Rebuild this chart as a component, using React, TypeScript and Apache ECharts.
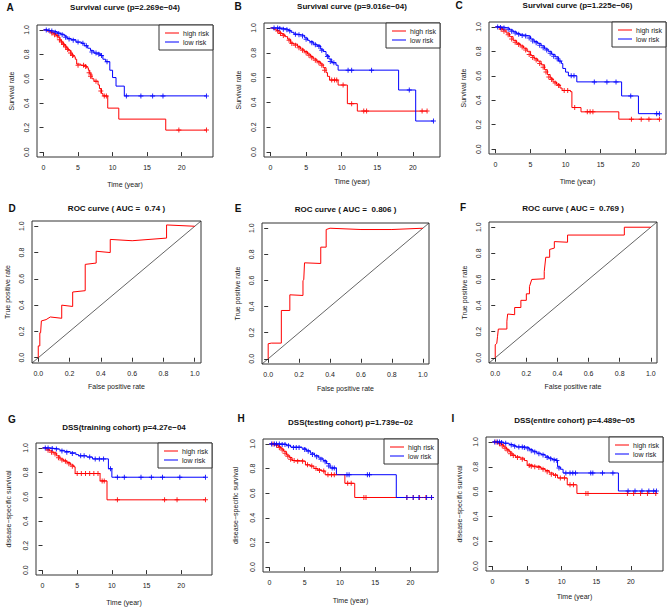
import React, { useEffect, useRef } from "react";
import * as echarts from "echarts";

const FONT = '"Liberation Sans", Arial, Helvetica, sans-serif';
const RED = "#FF0000";
const BLUE = "#0000FF";
const INK = "#333333";

// ---- tick values ----
const kmXTicks = [0, 5, 10, 15, 20];
const unitTicks = [0, 0.2, 0.4, 0.6, 0.8, 1.0];

// ---- panel texts ----
const letters = ["A", "B", "C", "D", "E", "F", "G", "H", "I"];
const titles = [
  "Survival curve (p=2.269e\u221204)",
  "Survival curve (p=9.016e\u221204)",
  "Survival curve (p=1.225e\u221206)",
  "ROC curve ( AUC =  0.74 )",
  "ROC curve ( AUC =  0.806 )",
  "ROC curve ( AUC =  0.769 )",
  "DSS(training cohort) p=4.27e\u221204",
  "DSS(testing cohort) p=1.739e\u221202",
  "DSS(entire cohort) p=4.489e\u221205",
];
const yNames = [
  "Survival rate", "Survival rate", "Survival rate",
  "True positive rate", "True positive rate", "True positive rate",
  "disease\u2212specific survival", "disease\u2212specific survival", "disease\u2212specific survival",
];
const xNames = [
  "Time (year)", "Time (year)", "Time (year)",
  "False positive rate", "False positive rate", "False positive rate",
  "Time (year)", "Time (year)", "Time (year)",
];
const legendNames = ["high risk", "low risk"];

// ---- follow-up maximum (years) for KM panels ----
const kmMaxA = 23.6, kmMaxB = 22.9, kmMaxC = 23.4, kmMaxG = 23.5, kmMaxH = 23.0, kmMaxI = 23.7;

// ---- Kaplan-Meier step points [time, survival] ----
const aHigh = [[0,1],[0.5,0.99],[1.0,0.98],[1.4,0.97],[1.8,0.955],[2.1,0.94],[2.4,0.91],[2.7,0.89],[3.0,0.87],[3.3,0.85],[3.6,0.83],[4.0,0.80],[4.3,0.78],[4.6,0.76],[4.8,0.72],[5.4,0.71],[6.2,0.69],[6.5,0.67],[6.7,0.64],[7.0,0.60],[7.3,0.58],[7.9,0.55],[8.1,0.52],[8.4,0.48],[8.6,0.46],[9.3,0.36],[10.9,0.27],[17.7,0.18],[23.6,0.18]];
const aHighCens = [[1.2,0.975],[1.6,0.96],[2.0,0.95],[2.3,0.92],[2.6,0.90],[2.9,0.88],[3.2,0.86],[3.5,0.84],[3.9,0.81],[4.2,0.79],[5.0,0.71],[5.8,0.71],[6.1,0.70],[6.6,0.65],[6.8,0.62],[7.6,0.58],[8.3,0.50],[8.8,0.46],[9.1,0.46],[19.6,0.18],[23.6,0.18]];
const aLow = [[0,1],[0.6,0.995],[1.0,0.99],[1.5,0.985],[2.0,0.975],[2.5,0.965],[3.0,0.95],[3.4,0.93],[4.0,0.92],[4.7,0.90],[5.5,0.89],[5.9,0.87],[6.4,0.85],[6.8,0.83],[7.3,0.81],[8.2,0.79],[8.6,0.76],[9.0,0.74],[9.6,0.67],[10.0,0.61],[10.5,0.54],[11.7,0.46],[23.6,0.46]];
const aLowCens = [[0.4,1],[0.8,0.995],[1.2,0.99],[1.7,0.98],[2.2,0.97],[2.7,0.96],[3.2,0.94],[3.7,0.925],[4.3,0.915],[5.0,0.90],[5.7,0.89],[6.2,0.87],[7.0,0.82],[7.6,0.81],[8.0,0.80],[8.4,0.79],[9.2,0.74],[12.0,0.46],[14.1,0.46],[15.8,0.46],[17.3,0.46],[23.6,0.46]];

const bHigh = [[0,1],[0.4,0.99],[0.8,0.98],[1.2,0.96],[1.6,0.95],[2.0,0.93],[2.4,0.91],[2.8,0.88],[3.2,0.87],[3.8,0.85],[4.2,0.83],[4.7,0.81],[5.2,0.79],[5.6,0.77],[6.0,0.75],[6.5,0.73],[7.0,0.71],[7.4,0.68],[7.8,0.64],[8.0,0.61],[8.3,0.58],[9.5,0.54],[10.8,0.39],[12.2,0.33],[22.0,0.33]];
const bHighCens = [[1.0,0.975],[1.4,0.955],[1.8,0.94],[2.6,0.90],[3.0,0.875],[3.5,0.86],[4.0,0.84],[4.5,0.82],[5.0,0.80],[5.4,0.78],[5.8,0.76],[6.3,0.74],[6.8,0.72],[7.2,0.70],[7.6,0.66],[8.6,0.58],[9.0,0.58],[9.3,0.58],[10.2,0.54],[11.4,0.39],[13.1,0.33],[13.5,0.33],[21.3,0.33],[22.0,0.33]];
const bLow = [[0,1],[1.5,0.995],[2.0,0.99],[2.5,0.98],[2.9,0.965],[3.3,0.95],[3.8,0.945],[4.3,0.94],[4.8,0.92],[5.2,0.90],[5.5,0.89],[6.0,0.87],[6.5,0.86],[7.0,0.83],[7.4,0.81],[7.8,0.78],[8.2,0.75],[8.6,0.72],[9.2,0.70],[9.5,0.66],[18.0,0.50],[20.4,0.25],[22.9,0.25]];
const bLowCens = [[0.5,1],[1.0,1],[1.3,0.995],[1.8,0.99],[2.3,0.985],[2.7,0.975],[3.5,0.95],[4.0,0.945],[4.5,0.935],[5.0,0.91],[5.8,0.88],[6.3,0.865],[6.8,0.85],[7.2,0.82],[8.0,0.77],[8.4,0.73],[8.9,0.72],[10.9,0.66],[11.4,0.66],[14.2,0.66],[19.5,0.50],[22.9,0.25]];

const cHigh = [[0,1],[0.5,0.99],[1.0,0.975],[1.5,0.95],[2.0,0.92],[2.5,0.89],[3.0,0.865],[3.5,0.845],[4.0,0.825],[4.5,0.80],[5.0,0.765],[5.5,0.74],[6.0,0.72],[6.5,0.69],[7.0,0.65],[7.4,0.61],[7.8,0.58],[8.2,0.55],[8.7,0.53],[9.2,0.50],[9.5,0.48],[10.7,0.47],[10.9,0.34],[12.2,0.305],[17.6,0.245],[23.4,0.245]];
const cHighCens = [[0.8,0.98],[1.2,0.965],[1.8,0.935],[2.3,0.90],[2.8,0.875],[3.3,0.855],[3.8,0.835],[4.3,0.81],[4.8,0.775],[5.3,0.75],[5.8,0.73],[6.3,0.70],[6.8,0.67],[7.2,0.63],[7.6,0.59],[8.0,0.57],[8.5,0.54],[9.0,0.52],[9.8,0.48],[10.3,0.48],[11.3,0.34],[13.1,0.305],[13.5,0.305],[13.9,0.305],[19.4,0.245],[20.8,0.245],[21.9,0.245],[23.4,0.245]];
const cLow = [[0,1],[1.0,0.995],[1.5,0.99],[2.0,0.975],[2.5,0.96],[3.0,0.945],[3.5,0.935],[4.0,0.93],[4.5,0.925],[5.0,0.90],[5.5,0.88],[6.0,0.865],[6.5,0.845],[7.0,0.82],[7.5,0.80],[8.0,0.775],[8.5,0.755],[9.0,0.72],[9.4,0.70],[9.6,0.66],[10.0,0.63],[10.4,0.60],[11.6,0.55],[18.0,0.435],[20.4,0.29],[23.4,0.29]];
const cLowCens = [[0.3,1],[0.7,0.995],[1.2,0.99],[1.8,0.98],[2.3,0.965],[2.8,0.95],[3.3,0.94],[3.8,0.93],[4.3,0.925],[4.8,0.91],[5.3,0.885],[5.8,0.87],[6.3,0.85],[6.8,0.83],[7.3,0.81],[7.8,0.785],[8.3,0.76],[8.8,0.74],[9.2,0.72],[10.8,0.60],[11.2,0.60],[14.1,0.55],[15.9,0.55],[17.2,0.55],[19.3,0.435],[23.0,0.29],[23.4,0.29]];

const gHigh = [[0,1],[0.5,0.99],[1.0,0.975],[1.5,0.96],[2.0,0.935],[2.5,0.91],[3.0,0.895],[3.5,0.88],[4.0,0.86],[4.5,0.845],[4.7,0.79],[8.3,0.73],[9.3,0.575],[23.5,0.575]];
const gHighCens = [[0.8,0.98],[1.3,0.965],[1.8,0.95],[2.3,0.92],[2.8,0.90],[3.3,0.89],[3.8,0.87],[4.3,0.85],[5.0,0.79],[5.6,0.79],[6.2,0.79],[6.8,0.79],[7.4,0.79],[8.0,0.79],[8.6,0.73],[8.9,0.73],[10.8,0.575],[17.6,0.575],[19.4,0.575],[23.5,0.575]];
const gLow = [[0,1],[1.2,0.995],[1.8,0.99],[2.5,0.98],[3.2,0.97],[4.0,0.96],[4.8,0.945],[5.2,0.935],[6.4,0.925],[7.2,0.91],[9.5,0.83],[10.0,0.76],[23.5,0.76]];
const gLowCens = [[0.4,1],[0.8,1],[1.4,0.995],[2.0,0.99],[2.8,0.975],[3.5,0.965],[4.3,0.955],[5.5,0.935],[6.0,0.935],[6.8,0.925],[7.6,0.91],[8.2,0.91],[8.8,0.91],[9.8,0.83],[10.8,0.76],[11.8,0.76],[14.2,0.76],[15.7,0.76],[17.3,0.76],[19.8,0.76],[23.5,0.76]];

const hHigh = [[0,1],[0.8,0.995],[1.2,0.98],[1.6,0.96],[2.0,0.94],[2.4,0.91],[2.8,0.89],[3.2,0.865],[4.4,0.86],[5.1,0.83],[5.8,0.82],[6.3,0.80],[6.8,0.79],[7.4,0.78],[7.9,0.75],[10.7,0.68],[12.1,0.565],[23.0,0.565]];
const hHighCens = [[0.5,1],[1.0,0.99],[1.4,0.97],[1.8,0.95],[2.2,0.925],[2.6,0.90],[3.0,0.875],[3.5,0.865],[4.0,0.86],[4.7,0.86],[5.4,0.83],[6.0,0.82],[6.6,0.80],[7.1,0.785],[7.7,0.78],[8.3,0.75],[8.8,0.75],[9.2,0.75],[11.1,0.68],[11.6,0.68],[13.4,0.565],[13.7,0.565],[19.5,0.565],[20.4,0.565],[21.3,0.565],[22.2,0.565],[23.0,0.565]];
const hLow = [[0,1],[2.4,0.99],[3.0,0.975],[4.6,0.965],[5.2,0.945],[5.8,0.925],[6.4,0.905],[7.0,0.885],[7.6,0.865],[8.1,0.84],[8.6,0.805],[9.5,0.75],[18.0,0.565],[23.0,0.565]];
const hLowCens = [[0.3,1],[0.7,1],[1.0,1],[1.4,1],[1.8,0.995],[2.2,0.995],[2.7,0.985],[3.4,0.97],[3.8,0.97],[4.2,0.97],[5.0,0.955],[5.5,0.94],[6.1,0.915],[6.7,0.895],[7.3,0.875],[7.9,0.855],[8.4,0.82],[8.9,0.805],[9.2,0.805],[11.0,0.75],[11.3,0.75],[13.9,0.75],[14.2,0.75],[19.5,0.565],[20.4,0.565],[21.2,0.565],[22.3,0.565],[23.0,0.565]];

const iHigh = [[0,1],[0.8,0.99],[1.2,0.98],[1.6,0.96],[2.0,0.94],[2.4,0.92],[2.8,0.895],[3.3,0.88],[4.0,0.87],[4.6,0.85],[5.0,0.815],[5.8,0.805],[6.4,0.80],[7.0,0.785],[7.6,0.77],[8.2,0.75],[8.8,0.735],[9.4,0.71],[10.8,0.655],[12.2,0.585],[23.7,0.585]];
const iHighCens = [[0.5,1],[1.0,0.985],[1.4,0.97],[1.8,0.95],[2.2,0.93],[2.6,0.905],[3.0,0.89],[3.6,0.875],[4.3,0.86],[5.3,0.81],[5.6,0.805],[6.1,0.80],[6.7,0.795],[7.3,0.78],[7.9,0.76],[8.5,0.74],[9.1,0.73],[9.8,0.71],[10.4,0.71],[11.2,0.655],[11.7,0.655],[13.5,0.585],[13.8,0.585],[19.5,0.585],[20.4,0.585],[21.4,0.585],[22.4,0.585],[23.6,0.585]];
const iLow = [[0,1],[1.6,0.99],[2.4,0.98],[3.0,0.97],[3.4,0.96],[4.8,0.955],[5.3,0.94],[5.8,0.925],[6.4,0.91],[7.0,0.90],[7.6,0.885],[8.1,0.87],[8.6,0.86],[9.2,0.85],[9.4,0.80],[9.8,0.78],[10.2,0.75],[18.2,0.605],[23.7,0.605]];
const iLowCens = [[0.3,1],[0.7,1],[1.0,1],[1.3,0.995],[1.9,0.99],[2.7,0.975],[3.2,0.965],[3.8,0.96],[4.3,0.96],[4.6,0.955],[5.1,0.945],[5.6,0.93],[6.1,0.92],[6.7,0.905],[7.3,0.895],[7.9,0.875],[8.4,0.865],[8.9,0.855],[9.3,0.85],[9.6,0.79],[10.6,0.75],[11.2,0.75],[11.6,0.75],[12.0,0.75],[14.2,0.75],[14.5,0.75],[15.9,0.75],[17.4,0.75],[19.6,0.605],[20.6,0.605],[21.6,0.605],[22.6,0.605],[23.3,0.605],[23.7,0.605]];

// ---- ROC curves [FPR, TPR] ----
const rocD = [[0,0],[0,0.09],[0.01,0.09],[0.01,0.19],[0.015,0.19],[0.02,0.28],[0.05,0.29],[0.077,0.31],[0.15,0.30],[0.15,0.40],[0.22,0.39],[0.22,0.50],[0.30,0.51],[0.30,0.71],[0.37,0.72],[0.37,0.81],[0.46,0.80],[0.46,0.90],[0.6,0.89],[0.82,0.91],[0.82,1.01],[1.0,1.0]];
const rocE = [[0,0],[0,0.115],[0.02,0.12],[0.085,0.12],[0.085,0.37],[0.14,0.37],[0.14,0.49],[0.225,0.485],[0.225,0.60],[0.23,0.605],[0.235,0.735],[0.34,0.73],[0.34,0.855],[0.375,0.855],[0.375,0.99],[0.4,1.0],[0.6,0.99],[0.8,0.99],[1.0,1.0]];
const rocF = [[0,0],[0,0.10],[0.01,0.11],[0.015,0.165],[0.02,0.22],[0.075,0.22],[0.075,0.28],[0.08,0.335],[0.125,0.33],[0.125,0.385],[0.165,0.385],[0.165,0.44],[0.2,0.44],[0.2,0.49],[0.22,0.49],[0.22,0.545],[0.235,0.60],[0.315,0.605],[0.315,0.66],[0.325,0.77],[0.35,0.77],[0.35,0.83],[0.38,0.84],[0.38,0.89],[0.465,0.885],[0.465,0.94],[0.83,0.94],[0.83,1.0],[1.0,1.0]];

const rocLo = -0.04;
const rocHi = 1.04;

// ---- layout (plot box pixel positions) ----
const layout = [
  { l: 37, t: 25, w: 176, h: 132, yg: 22, xg: 24, lx: 10, ly: 7, ty: 7 },
  { l: 264, t: 23, w: 176, h: 134, yg: 22, xg: 21, lx: 238, ly: 6, ty: 6 },
  { l: 489, t: 22, w: 177, h: 132, yg: 22, xg: 24, lx: 459, ly: 5, ty: 5 },
  { l: 32, t: 221, w: 169, h: 142, yg: 21, xg: 20, lx: 12, ly: 208, ty: 208 },
  { l: 262, t: 223, w: 167, h: 141, yg: 21, xg: 21, lx: 238, ly: 208, ty: 209 },
  { l: 489, t: 222, w: 168, h: 141, yg: 21, xg: 20, lx: 463, ly: 207, ty: 208 },
  { l: 36, t: 443, w: 176, h: 132, yg: 24, xg: 24, lx: 12, ly: 419, ty: 427 },
  { l: 263, t: 439, w: 175, h: 133, yg: 24, xg: 25, lx: 241, ly: 418, ty: 422 },
  { l: 486, t: 437, w: 177, h: 134, yg: 23, xg: 22, lx: 453, ly: 418, ty: 420 },
];

const kmPanels: Record<number, any> = {
  0: { high: aHigh, highC: aHighCens, low: aLow, lowC: aLowCens, max: kmMaxA },
  1: { high: bHigh, highC: bHighCens, low: bLow, lowC: bLowCens, max: kmMaxB },
  2: { high: cHigh, highC: cHighCens, low: cLow, lowC: cLowCens, max: kmMaxC },
  6: { high: gHigh, highC: gHighCens, low: gLow, lowC: gLowCens, max: kmMaxG },
  7: { high: hHigh, highC: hHighCens, low: hLow, lowC: hLowCens, max: kmMaxH },
  8: { high: iHigh, highC: iHighCens, low: iLow, lowC: iLowCens, max: kmMaxI },
};
const rocPanels: Record<number, number[][]> = { 3: rocD, 4: rocE, 5: rocF };

const PLUS = "path://M4,0 H6 V4 H10 V6 H6 V10 H4 V6 H0 V4 H4 Z";

function buildOption() {
  const grid: any[] = [];
  const xAxis: any[] = [];
  const yAxis: any[] = [];
  const series: any[] = [];
  const graphic: any[] = [];
  const labelStyle = { fontSize: 7, color: "#222", fontFamily: FONT };

  layout.forEach((p, i) => {
    grid.push({ left: p.l, top: p.t, width: p.w, height: p.h, show: true, borderColor: INK, borderWidth: 1, backgroundColor: "transparent" });
    const km = kmPanels[i];
    const xMin = km ? -0.04 * km.max : rocLo;
    const xMax = km ? 1.04 * km.max : rocHi;
    const xTicks = km ? kmXTicks : unitTicks;
    xAxis.push({
      type: "value", gridIndex: i, min: xMin, max: xMax,
      axisLine: { show: false }, splitLine: { show: false },
      axisTick: { show: true, length: 4, customValues: xTicks, lineStyle: { color: INK, width: 1 } },
      axisLabel: { customValues: xTicks, margin: 7, ...labelStyle, formatter: (v: number) => (km ? String(v) : v.toFixed(1)) },
      name: xNames[i], nameLocation: "middle", nameGap: p.xg,
      nameTextStyle: { fontSize: 7, color: "#222", fontFamily: FONT },
    });
    yAxis.push({
      type: "value", gridIndex: i, min: rocLo, max: rocHi,
      axisLine: { show: false }, splitLine: { show: false },
      axisTick: { show: true, length: 4, customValues: unitTicks, lineStyle: { color: INK, width: 1 } },
      axisLabel: { customValues: unitTicks, margin: 7, rotate: 90, ...labelStyle, formatter: (v: number) => v.toFixed(1) },
      name: yNames[i], nameLocation: "middle", nameGap: p.yg,
      nameTextStyle: { fontSize: 7, color: "#222", fontFamily: FONT },
    });

    if (km) {
      const groups = [
        { d: km.high, c: km.highC, col: RED, name: legendNames[0] },
        { d: km.low, c: km.lowC, col: BLUE, name: legendNames[1] },
      ];
      groups.forEach((g) => {
        series.push({
          type: "line", name: g.name, xAxisIndex: i, yAxisIndex: i, data: g.d, step: "end",
          symbol: "none", silent: true, lineStyle: { color: g.col, width: 1 }, z: 3,
        });
        series.push({
          type: "scatter", name: g.name, xAxisIndex: i, yAxisIndex: i, data: g.c,
          symbol: PLUS, symbolSize: 5, silent: true, itemStyle: { color: g.col, opacity: 0.85 }, z: 4,
        });
      });
      // legend box
      const lw = 54, lh = 25;
      graphic.push({
        type: "group", x: p.l + p.w - lw, y: p.t, z: 100,
        children: [
          { type: "rect", shape: { x: 0, y: 0, width: lw, height: lh }, style: { fill: "#fff", stroke: INK, lineWidth: 1 } },
          { type: "line", shape: { x1: 6, y1: 8, x2: 20, y2: 8 }, style: { stroke: RED, lineWidth: 1 } },
          { type: "text", x: 24, y: 8, style: { text: legendNames[0], fill: "#222", font: `7px ${FONT}`, verticalAlign: "middle", align: "left" } },
          { type: "line", shape: { x1: 6, y1: 17, x2: 20, y2: 17 }, style: { stroke: BLUE, lineWidth: 1 } },
          { type: "text", x: 24, y: 17, style: { text: legendNames[1], fill: "#222", font: `7px ${FONT}`, verticalAlign: "middle", align: "left" } },
        ],
      });
    } else {
      series.push({
        type: "line", xAxisIndex: i, yAxisIndex: i, data: [[rocLo, rocLo], [rocHi, rocHi]],
        symbol: "none", silent: true, lineStyle: { color: "#222", width: 0.7 }, z: 2,
      });
      series.push({
        type: "line", xAxisIndex: i, yAxisIndex: i, data: rocPanels[i],
        symbol: "none", silent: true, lineStyle: { color: RED, width: 1 }, z: 3,
      });
    }

    graphic.push({
      type: "text", x: p.lx, y: p.ly, z: 100,
      style: { text: letters[i], fill: "#111", font: `bold 10px ${FONT}`, align: "center", verticalAlign: "middle" },
    });
    graphic.push({
      type: "text", x: p.l + p.w / 2, y: p.ty, z: 100,
      style: { text: titles[i], fill: "#111", font: `bold 8px ${FONT}`, align: "center", verticalAlign: "middle" },
    });
  });

  return { animation: false, backgroundColor: "#ffffff", grid, xAxis, yAxis, series, graphic };
}

export default function App() {
  const ref = useRef<HTMLDivElement>(null);
  useEffect(() => {
    if (!ref.current) return;
    const chart = echarts.init(ref.current, null, { renderer: "svg" });
    chart.setOption(buildOption() as any);
    return () => chart.dispose();
  }, []);
  return <div ref={ref} style={{ position: "absolute", left: 0, top: 0, width: 669, height: 610 }} />;
}
